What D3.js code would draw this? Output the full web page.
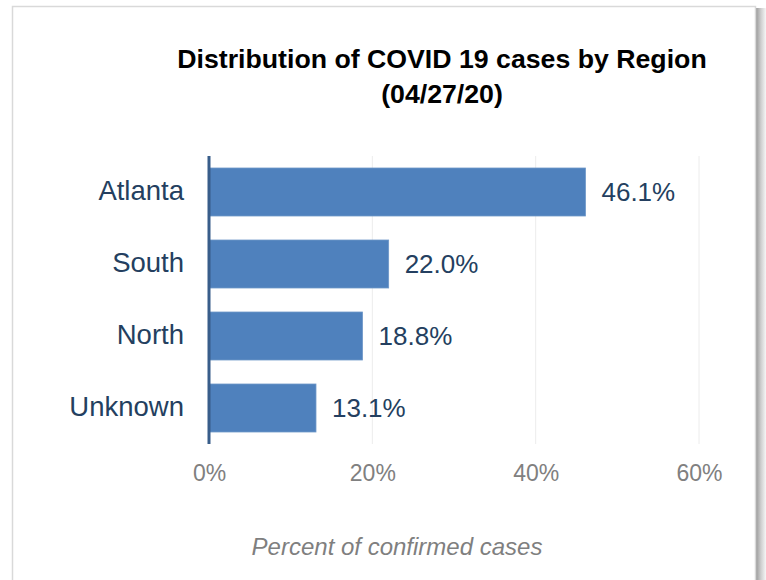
<!DOCTYPE html>
<html>
<head>
<meta charset="utf-8">
<script src="https://cdn.jsdelivr.net/npm/d3@7"></script>
<style>
  html, body { margin: 0; padding: 0; background: #fff; }
  svg { display: block; }
</style>
</head>
<body>
<svg id="chart" width="766" height="580"></svg>
<script>
const categories = ["Atlanta", "South", "North", "Unknown"];
const values = [46.1, 22.0, 18.8, 13.1];
const tickValues = [0, 20, 40, 60];
const titleLines = ["Distribution of COVID 19 cases by Region", "(04/27/20)"];
const axisTitle = "Percent of confirmed cases";

const svg = d3.select("#chart");
const W = 766, H = 580;

// frame + shadow
const defs = svg.append("defs");
const grad = defs.append("linearGradient").attr("id", "shadow").attr("x1", "0").attr("x2", "1").attr("y1", "0").attr("y2", "0");
grad.append("stop").attr("offset", "0").attr("stop-color", "#9a9a9a");
grad.append("stop").attr("offset", "0.5").attr("stop-color", "#cfcfcf");
grad.append("stop").attr("offset", "1").attr("stop-color", "#f6f6f6");
svg.append("rect").attr("x", 756).attr("y", 8).attr("width", 10).attr("height", H).attr("fill", "url(#shadow)");
svg.append("rect").attr("x", 12.5).attr("y", 6.5).attr("width", 743).attr("height", H)
  .attr("fill", "#fff").attr("stroke", "#d9d9d9").attr("stroke-width", 1.5);

const x = d3.scaleLinear().domain([0, 60]).range([209, 699]);
const y = d3.scaleBand().domain(categories).range([156, 444]).paddingInner(1/3).paddingOuter(1/6);

// title
svg.append("g").selectAll("text").data(titleLines).join("text")
  .attr("x", 442).attr("y", (d, i) => 68.3 + i * 35)
  .attr("text-anchor", "middle")
  .attr("font-family", "Liberation Sans, Arial, sans-serif")
  .attr("font-weight", "bold").attr("font-size", 26.7).attr("fill", "#000")
  .text(d => d);

// gridlines
svg.append("g").selectAll("line").data(tickValues.filter(t => t > 0)).join("line")
  .attr("x1", d => x(d)).attr("x2", d => x(d))
  .attr("y1", 156).attr("y2", 444)
  .attr("stroke", "#ececec").attr("stroke-width", 1);

// bars
svg.append("g").selectAll("rect").data(categories).join("rect")
  .attr("x", x(0)).attr("y", d => y(d))
  .attr("width", (d, i) => x(values[i]) - x(0))
  .attr("height", y.bandwidth())
  .attr("fill", "#4f81bd").attr("stroke", "#6f98c9").attr("stroke-width", 0.8);

// category axis line
svg.append("line").attr("x1", x(0)).attr("x2", x(0)).attr("y1", 156).attr("y2", 444)
  .attr("stroke", "#385d8a").attr("stroke-width", 3);

// category labels
const yAxis = d3.axisLeft(y).tickSize(0).tickPadding(0);
const yg = svg.append("g").attr("transform", "translate(184,0)").call(yAxis);
yg.select(".domain").remove();
yg.selectAll("text")
  .attr("font-family", "Liberation Sans, Arial, sans-serif")
  .attr("font-size", 27.5).attr("fill", "#243f60").attr("dy", "0.3em");

// value labels
svg.append("g").selectAll("text").data(categories).join("text")
  .attr("x", (d, i) => x(values[i]) + 16)
  .attr("y", d => y(d) + y.bandwidth() / 2)
  .attr("dy", "0.35em")
  .attr("font-family", "Liberation Sans, Arial, sans-serif")
  .attr("font-size", 26).attr("fill", "#243f60")
  .text((d, i) => values[i].toFixed(1) + "%");

// x axis ticks
const xAxis = d3.axisBottom(x).tickValues(tickValues).tickFormat(d => d + "%").tickSize(0).tickPadding(0);
const xg = svg.append("g").attr("transform", "translate(0,481)").call(xAxis);
xg.select(".domain").remove();
xg.selectAll("text")
  .attr("y", 0).attr("dy", 0)
  .attr("font-family", "Liberation Sans, Arial, sans-serif")
  .attr("font-size", 23).attr("fill", "#808080");

// axis title
svg.append("text").attr("x", 397).attr("y", 555)
  .attr("text-anchor", "middle")
  .attr("font-family", "Liberation Sans, Arial, sans-serif")
  .attr("font-style", "italic").attr("font-size", 24).attr("fill", "#7f7f7f")
  .text(axisTitle);
</script>
</body>
</html>
